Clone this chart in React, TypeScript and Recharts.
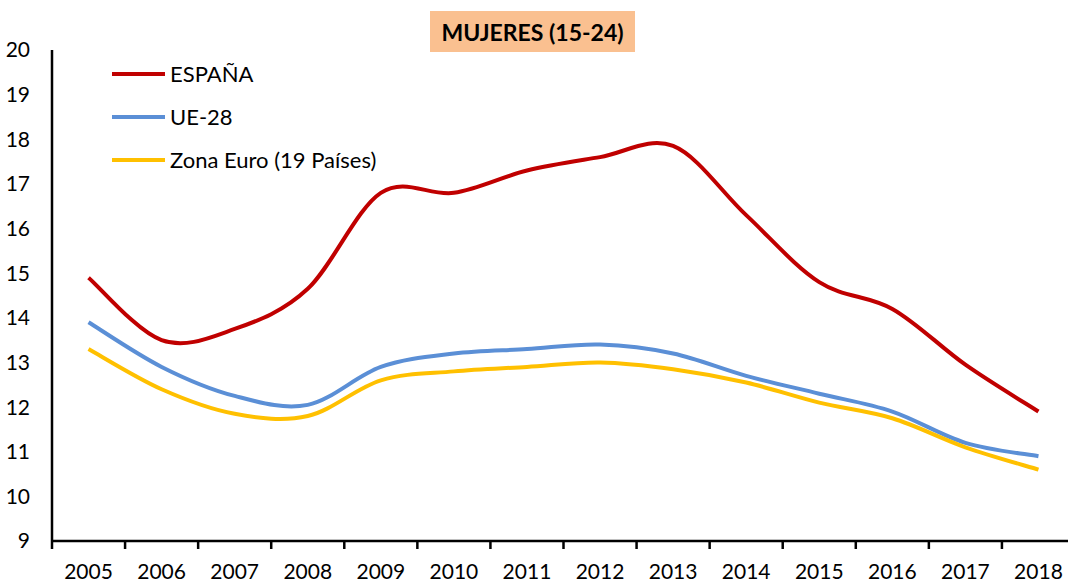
import React from 'react';
import { LineChart, Line, XAxis, YAxis } from 'recharts';

const years = ['2005', '2006', '2007', '2008', '2009', '2010', '2011', '2012', '2013', '2014', '2015', '2016', '2017', '2018'];
const espana = [14.9, 13.5, 13.75, 14.65, 16.8, 16.8, 17.3, 17.6, 17.85, 16.3, 14.8, 14.2, 12.95, 11.9];
const ue28 = [13.9, 12.9, 12.25, 12.05, 12.9, 13.2, 13.3, 13.4, 13.2, 12.7, 12.3, 11.9, 11.2, 10.9];
const zonaEuro = [13.3, 12.4, 11.85, 11.8, 12.6, 12.8, 12.9, 13.0, 12.85, 12.55, 12.1, 11.75, 11.1, 10.6];
const yTicks = [9, 10, 11, 12, 13, 14, 15, 16, 17, 18, 19, 20];

const series = [
  { key: 'espana', name: 'ESPAÑA', color: '#C00000' },
  { key: 'ue28', name: 'UE-28', color: '#5B8FD6' },
  { key: 'zona', name: 'Zona Euro (19 Países)', color: '#FFC000' },
];

const data = years.map((year, i) => ({
  year,
  espana: espana[i],
  ue28: ue28[i],
  zona: zonaEuro[i],
}));

const FONT = 'Lato, "Open Sans", sans-serif';
const CHART_W = 1080;
const PLOT_LEFT = 52;
const PLOT_RIGHT = 5;
const BAND = (CHART_W - PLOT_LEFT - PLOT_RIGHT) / years.length;

// excel-like smoothed line (catmull-rom through the points)
const smoothCurve = (context: any) => {
  let pts: number[][] = [];
  return {
    areaStart() {},
    areaEnd() {},
    lineStart() {
      pts = [];
    },
    lineEnd() {
      const n = pts.length;
      if (!n) return;
      context.moveTo(pts[0][0], pts[0][1]);
      for (let i = 0; i < n - 1; i++) {
        const p0 = pts[Math.max(i - 1, 0)];
        const p1 = pts[i];
        const p2 = pts[i + 1];
        const p3 = pts[Math.min(i + 2, n - 1)];
        context.bezierCurveTo(
          p1[0] + (p2[0] - p0[0]) / 6,
          p1[1] + (p2[1] - p0[1]) / 6,
          p2[0] - (p3[0] - p1[0]) / 6,
          p2[1] - (p3[1] - p1[1]) / 6,
          p2[0],
          p2[1]
        );
      }
    },
    point(x: number, y: number) {
      pts.push([+x, +y]);
    },
  };
};

const AXIS_Y = 541;

const XTick = ({ x, payload }: any) => {
  const left = x - BAND / 2;
  return (
    <g>
      <line x1={left} y1={AXIS_Y} x2={left} y2={AXIS_Y + 8} stroke="#000" strokeWidth={2.5} />
      <text x={x} y={AXIS_Y + 38} textAnchor="middle" fontFamily={FONT} fontSize={21} fill="#000">
        {payload.value}
      </text>
    </g>
  );
};

export default function App() {
  return (
    <div style={{ position: 'relative', width: 1068, height: 582, overflow: 'hidden', background: '#fff' }}>
      <style>{`body{margin:0}`}</style>
      <LineChart
        width={CHART_W}
        height={582}
        data={data}
        margin={{ top: 50, right: PLOT_RIGHT, bottom: 0, left: 0 }}
      >
        <XAxis
          dataKey="year"
          height={41}
          padding={{ left: BAND / 2, right: BAND / 2 }}
          axisLine={{ stroke: '#000', strokeWidth: 2.5 }}
          tickLine={false}
          tickSize={0}
          tickMargin={0}
          tick={<XTick />}
          interval={0}
        />
        <YAxis
          width={PLOT_LEFT}
          domain={[9, 20]}
          ticks={yTicks}
          interval={0}
          axisLine={{ stroke: '#000', strokeWidth: 2.5 }}
          tickLine={false}
          tickSize={0}
          tickMargin={22}
          tick={{ fontFamily: FONT, fontSize: 21, fill: '#000' }}
        />
        {series.map((s) => (
          <Line
            key={s.key}
            dataKey={s.key}
            name={s.name}
            type={smoothCurve as any}
            stroke={s.color}
            strokeWidth={4}
            dot={false}
            activeDot={false}
            isAnimationActive={false}
          />
        ))}
      </LineChart>
      <div style={{ position: 'absolute', left: 112, top: 52, fontFamily: FONT, fontSize: 22, color: '#000' }}>
        {series.map((s) => (
          <div key={s.key} style={{ display: 'flex', alignItems: 'center', height: 43 }}>
            <span style={{ display: 'inline-block', width: 53, height: 4, background: s.color, marginRight: 5 }} />
            <span>{s.name}</span>
          </div>
        ))}
      </div>
      <div
        style={{
          position: 'absolute',
          left: 430,
          top: 11,
          width: 205,
          height: 41,
          background: '#FAC090',
          fontFamily: FONT,
          fontWeight: 'bold',
          fontSize: 23,
          color: '#000',
          display: 'flex',
          alignItems: 'center',
          justifyContent: 'center',
        }}
      >
        MUJERES (15-24)
      </div>
    </div>
  );
}
